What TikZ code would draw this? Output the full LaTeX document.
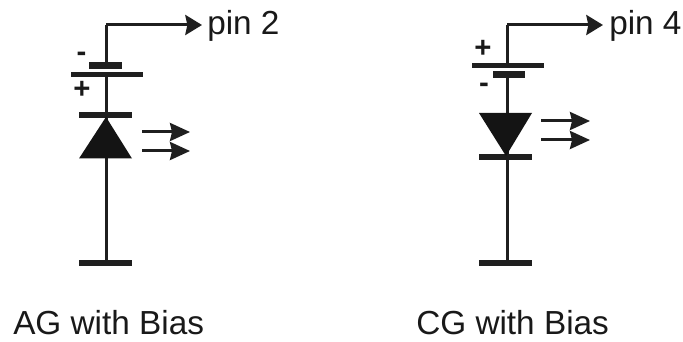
\documentclass[tikz,border=0pt]{standalone}
\usepackage{fontspec}
\setmainfont{Liberation Sans}
\usetikzlibrary{arrows.meta}
\tikzset{
  wire/.style={draw=black!88,line width=3pt*0.75},
  plate/.style={draw=none,fill=black!88,inner sep=0pt,minimum height=#1*0.75pt},
  lbl/.style={inner sep=0pt,text=black!90,font=\fontsize{25}{30}\selectfont,anchor=base west},
  sign/.style={inner sep=0pt,text=black!90,font=\bfseries\fontsize{22}{24}\selectfont,anchor=base},
  bigarrow/.style={wire,-{Stealth[length=12.5pt,width=15pt,inset=1.5pt]}},
  smallarrow/.style={wire,-{Stealth[length=15pt,width=13.5pt,inset=1.5pt]}},
  diode/.style={fill=black!92,draw=none}
}
\begin{document}
\begin{tikzpicture}[x=0.75pt,y=-0.75pt]
\useasboundingbox (0,0) rectangle (683,342);
% left circuit
\node[plate=7,minimum width=24.2pt] (aSmall) at (105.5,65.5) {};
\node[plate=5,minimum width=54pt] (aLong) at (107,74.5) {};
\node[plate=6,minimum width=39.7pt] (aBar) at (105.5,115) {};
\node[plate=6,minimum width=39.7pt] (aEnd) at (105.5,263) {};
\coordinate (aCorner) at (106,25);
\coordinate (aPin) at (202,25);
\draw[wire] (aSmall.center -| aCorner) -- (aCorner);
\draw[bigarrow] (aCorner) -- (aPin);
\draw[wire] (aLong.center -| aCorner) -- (aBar.center -| aCorner);
\draw[wire] (aBar.center -| aCorner) -- (aEnd.center -| aCorner);
\fill[diode] (106,117) -- (132,158.5) -- (79,158.5) -- cycle;
\coordinate (aA1) at (142,132); \coordinate (aB1) at (190,132);
\coordinate (aA2) at (142,151); \coordinate (aB2) at (190,151);
\draw[smallarrow] (aA1) -- (aB1);
\draw[smallarrow] (aA2) -- (aB2);
\node[lbl] (aPinT) at (207,34.5) {pin 2};
\node[sign] (aMinus) at (81.5,62) {-};
\node[sign] (aPlus) at (82,99) {+};
\node[lbl] (aCap) at (13,335) {AG with Bias};
% right circuit
\node[plate=5,minimum width=54pt] (cLong) at (507.5,65.5) {};
\node[plate=7,minimum width=24.2pt] (cSmall) at (509,74.5) {};
\node[plate=6,minimum width=39.7pt] (cBar) at (505.5,157) {};
\node[plate=6,minimum width=39.7pt] (cEnd) at (505.5,263) {};
\coordinate (cCorner) at (507,25);
\coordinate (cPin) at (603,25);
\draw[wire] (cLong.center -| cCorner) -- (cCorner);
\draw[bigarrow] (cCorner) -- (cPin);
\draw[wire] (cSmall.center -| cCorner) -- (cBar.center -| cCorner);
\draw[wire] (cBar.center -| cCorner) -- (cEnd.center -| cCorner);
\fill[diode] (479,113) -- (532,113) -- (506,156) -- cycle;
\coordinate (cA1) at (541,121); \coordinate (cB1) at (590,121);
\coordinate (cA2) at (541,140); \coordinate (cB2) at (590,140);
\draw[smallarrow] (cA1) -- (cB1);
\draw[smallarrow] (cA2) -- (cB2);
\node[lbl] (cPinT) at (609,34.5) {pin 4};
\node[sign] (cPlus) at (483,58) {+};
\node[sign] (cMinus) at (484,93) {-};
\node[lbl] (cCap) at (416,335) {CG with Bias};
\end{tikzpicture}
\end{document}
